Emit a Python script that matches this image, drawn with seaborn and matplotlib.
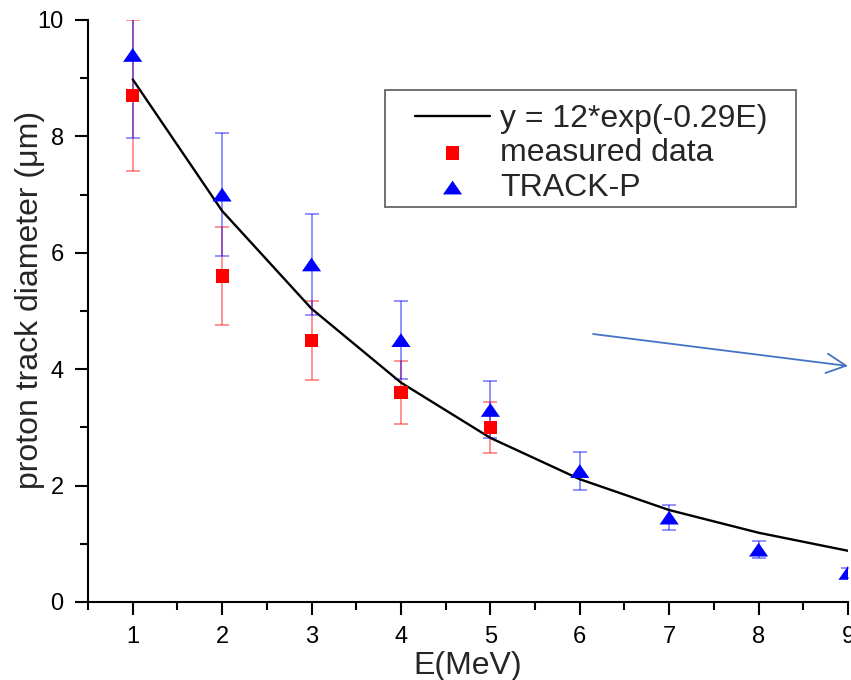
import numpy as np
import pandas as pd
import matplotlib
matplotlib.use("Agg")
import matplotlib.pyplot as plt
import seaborn as sns
from matplotlib.patches import Rectangle

# ---- data ----
E_fit = [1, 2, 3, 4, 5, 6, 7, 8, 9]
fit_vals = [8.98, 6.72, 5.04, 3.77, 2.82, 2.11, 1.58, 1.19, 0.88]

E_meas = [1, 2, 3, 4, 5]
measured = [8.7, 5.6, 4.5, 3.6, 3.0]
measured_err = [1.3, 0.84, 0.68, 0.54, 0.44]

E_track = [1, 2, 3, 4, 5, 6, 7, 8, 9]
track = [9.4, 7.0, 5.8, 4.5, 3.3, 2.25, 1.45, 0.9, 0.5]
track_err = [1.43, 1.05, 0.87, 0.67, 0.49, 0.33, 0.21, 0.14, 0.08]

fit_label = "y = 12*exp(-0.29E)"
meas_label = "measured data"
track_label = "TRACK-P"
x_ticks = [1, 2, 3, 4, 5, 6, 7, 8, 9]
y_ticks = [0, 2, 4, 6, 8, 10]

sns.set_style("ticks")
plt.rcParams["font.family"] = ["Liberation Sans", "DejaVu Sans"]

W, H = 851, 680
fig = plt.figure(figsize=(W / 100, H / 100), dpi=100)
ax = fig.add_axes([88 / W, 78 / H, 760 / W, 582 / H])

# error bars
ax.errorbar(E_meas, measured, yerr=measured_err, fmt="none", ecolor=(1, 0, 0, 0.5),
            elinewidth=1.2, capsize=4.8, capthick=1.2, zorder=2)
ax.errorbar(E_track, track, yerr=track_err, fmt="none", ecolor=(0, 0, 1, 0.5),
            elinewidth=1.2, capsize=4.8, capthick=1.2, zorder=2)

# fit line
sns.lineplot(x=E_fit, y=fit_vals, color="black", linewidth=1.7, ax=ax,
             label=fit_label, zorder=3)

# markers
tri = [(-1, -0.72), (1, -0.72), (0, 0.72)]
sns.scatterplot(x=E_meas, y=measured, marker="s", s=90, color="red",
                edgecolor="none", linewidth=0, ax=ax, label=meas_label, zorder=4)
sns.scatterplot(x=E_track, y=track, marker=tri, s=190, color="blue",
                edgecolor="none", linewidth=0, ax=ax, label=track_label, zorder=5)

ax.set_xlim(0.5, 9.0)
ax.set_ylim(0, 10)
ax.set_xticks(x_ticks)
ax.set_xticks(np.arange(0.5, 9.0, 1.0), minor=True)
ax.set_yticks(y_ticks)
ax.set_yticks([1, 3, 5, 7, 9], minor=True)

for s in ["top", "right"]:
    ax.spines[s].set_visible(False)
for s in ["left", "bottom"]:
    ax.spines[s].set_linewidth(1.5)
    ax.spines[s].set_color("black")

ax.tick_params(which="major", length=9.5, width=1.5, direction="out",
               labelsize=17, colors="black")
ax.tick_params(axis="x", which="major", pad=8)
ax.tick_params(axis="y", which="major", pad=8)
ax.tick_params(which="minor", length=6, width=1.5, direction="out", colors="black")

ax.set_xlabel("E(MeV)", fontsize=23, labelpad=2)
ax.set_ylabel("proton track diameter (\u03bcm)", fontsize=23)
ax.yaxis.set_label_coords(-0.057, 0.519)

# legend frame (drawn separately to match the reference box)
ax.add_patch(Rectangle((385 / W, 1 - 207 / H), 411 / W, 117 / H,
                       transform=fig.transFigure, facecolor="white",
                       edgecolor="#666666", linewidth=1.3, clip_on=False, zorder=6))
leg = ax.legend(loc="upper left", bbox_to_anchor=(415 / W, 1 - 104 / H),
                bbox_transform=fig.transFigure, fontsize=23, frameon=False,
                borderpad=0, handlelength=2.35, handletextpad=0.31,
                labelspacing=0.14, borderaxespad=0)
leg.set_zorder(7)

# annotation arrow
ax.annotate("", xy=(848, H - 366), xycoords="figure pixels",
            xytext=(593, H - 334), textcoords="figure pixels",
            arrowprops=dict(arrowstyle="->,head_length=1.4,head_width=0.7",
                            color="#4472C4", lw=1.3, shrinkA=0, shrinkB=0),
            annotation_clip=False)

fig.savefig("out.png", dpi=100)
